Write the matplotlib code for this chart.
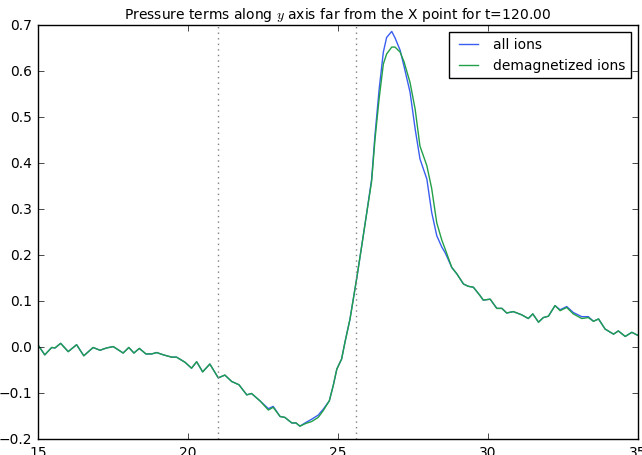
import numpy as np
import matplotlib
matplotlib.use('Agg')
import matplotlib.pyplot as plt

# position along y (shared grid for both curves)
y_pos = [15.0, 15.23, 15.46, 15.57, 15.76, 16.01, 16.29, 16.53, 16.84, 17.07,
         17.29, 17.51, 17.84, 18.03, 18.2, 18.38, 18.6, 18.79, 18.96, 19.18,
         19.46, 19.62, 19.9, 20.12, 20.29, 20.49, 20.73, 21.01, 21.23, 21.46,
         21.7, 21.96, 22.12, 22.4, 22.68, 22.84, 23.07, 23.23, 23.46, 23.6,
         23.73, 23.93, 24.12, 24.34, 24.51, 24.71, 24.84, 24.96, 25.12, 25.23,
         25.4, 25.62, 25.79, 25.96, 26.12, 26.23, 26.37, 26.51, 26.62, 26.79,
         26.9, 27.07, 27.2, 27.4, 27.57, 27.73, 27.96, 28.12, 28.29, 28.46,
         28.57, 28.79, 28.96, 29.18, 29.34, 29.51, 29.73, 29.84, 30.07, 30.29,
         30.46, 30.62, 30.84, 31.12, 31.34, 31.49, 31.68, 31.84, 32.01, 32.23,
         32.4, 32.62, 32.84, 33.12, 33.34, 33.51, 33.68, 33.9, 34.18, 34.34,
         34.57, 34.79, 35.0]

p_all = [0.005, -0.017, -0.001, -0.002, 0.008, -0.010, 0.005, -0.019, -0.001, -0.007,
         -0.002, 0.001, -0.013, -0.001, -0.013, -0.003, -0.015, -0.015, -0.012, -0.017,
         -0.022, -0.022, -0.033, -0.046, -0.032, -0.054, -0.037, -0.067, -0.061, -0.075,
         -0.082, -0.104, -0.101, -0.117, -0.134, -0.129, -0.151, -0.153, -0.165, -0.165,
         -0.172, -0.164, -0.157, -0.148, -0.135, -0.117, -0.084, -0.048, -0.026, 0.010,
         0.061, 0.148, 0.220, 0.293, 0.365, 0.459, 0.560, 0.641, 0.673, 0.686,
         0.672, 0.645, 0.610, 0.554, 0.474, 0.409, 0.365, 0.293, 0.242, 0.217,
         0.205, 0.173, 0.159, 0.137, 0.132, 0.130, 0.112, 0.102, 0.104, 0.084,
         0.084, 0.074, 0.077, 0.070, 0.062, 0.072, 0.054, 0.064, 0.067, 0.090,
         0.081, 0.088, 0.075, 0.066, 0.066, 0.056, 0.061, 0.039, 0.028, 0.035,
         0.023, 0.032, 0.025]

p_demag = [0.005, -0.017, -0.001, -0.002, 0.008, -0.010, 0.005, -0.019, -0.001, -0.007,
           -0.002, 0.001, -0.013, -0.001, -0.013, -0.003, -0.015, -0.015, -0.012, -0.017,
           -0.022, -0.022, -0.033, -0.046, -0.032, -0.054, -0.037, -0.067, -0.061, -0.075,
           -0.082, -0.104, -0.101, -0.117, -0.137, -0.131, -0.151, -0.153, -0.165, -0.165,
           -0.172, -0.166, -0.162, -0.153, -0.138, -0.117, -0.084, -0.048, -0.026, 0.010,
           0.061, 0.148, 0.220, 0.293, 0.360, 0.450, 0.540, 0.615, 0.637, 0.652,
           0.652, 0.641, 0.620, 0.575, 0.517, 0.437, 0.394, 0.345, 0.270, 0.232,
           0.213, 0.173, 0.159, 0.137, 0.132, 0.130, 0.112, 0.102, 0.104, 0.084,
           0.084, 0.074, 0.077, 0.070, 0.062, 0.072, 0.054, 0.064, 0.067, 0.090,
           0.079, 0.086, 0.072, 0.062, 0.064, 0.056, 0.061, 0.039, 0.028, 0.035,
           0.023, 0.032, 0.025]

region_edges = [21.0, 25.6]

plt.style.use('classic')
fig = plt.figure(figsize=(6.42, 4.56), dpi=100, facecolor='white')
ax = fig.add_axes([0.059, 0.035, 0.935, 0.908])

ax.plot(y_pos, p_all, color='#3a5ff0', lw=1.0, label='all ions')
ax.plot(y_pos, p_demag, color='#22a048', lw=1.0, label='demagnetized ions')
for xv in region_edges:
    ax.axvline(xv, color='gray', ls=':', lw=1.0)

ax.set_xlim(15, 35)
ax.set_ylim(-0.2, 0.7)
ax.set_xticks([15, 20, 25, 30, 35])
ax.set_yticks(np.arange(-0.2, 0.71, 0.1))
ax.tick_params(labelsize=10)
ax.set_title('Pressure terms along $y$ axis far from the X point for t=120.00', fontsize=10)
ax.legend(loc='upper right', fontsize=10, handlelength=2)

fig.savefig('out.png', dpi=100, facecolor='white')
